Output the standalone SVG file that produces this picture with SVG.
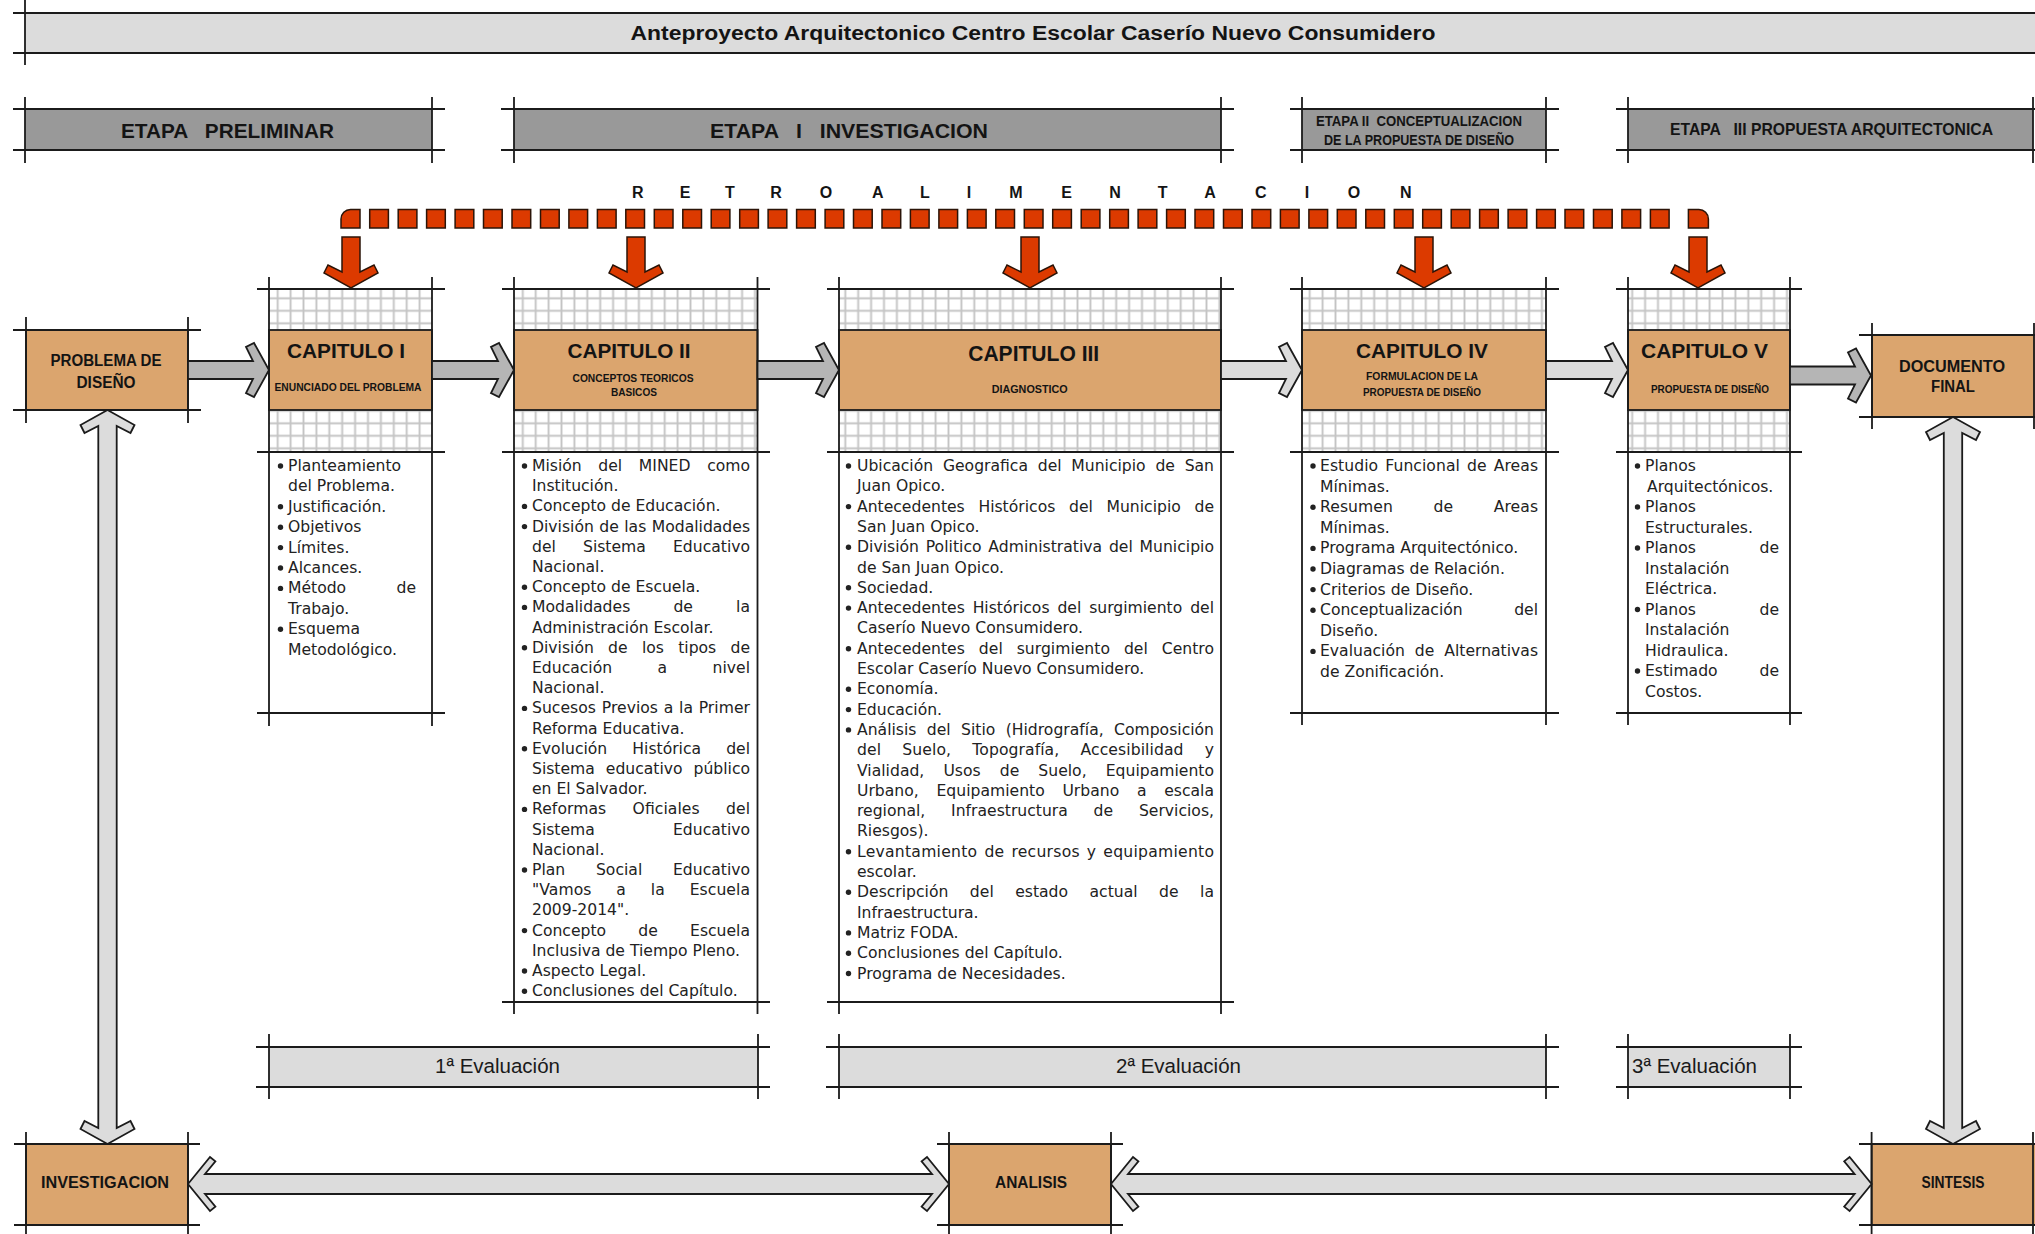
<svg xmlns="http://www.w3.org/2000/svg" width="2035" height="1234" viewBox="0 0 2035 1234">
<defs>
<style>
.ln{stroke:#1b1b1b;stroke-width:1.8;fill:none}
.or{fill:#dba56e;stroke:#1b1b1b;stroke-width:1.8}
.lg{fill:#dcdcdc}
.et{fill:#999999}
.hb{font-family:"Liberation Sans",Arial,sans-serif;font-weight:bold;fill:#141414}
.bt{font-family:"DejaVu Sans",Verdana,sans-serif;font-size:15.6px;fill:#222}
.bu{fill:#222}
.ev{font-family:"Liberation Sans",Arial,sans-serif;font-size:20.5px;fill:#1a1a1a}
.ag{fill:#b5b5b5;stroke:#1b1b1b;stroke-width:1.8;stroke-linejoin:miter}
.al{fill:#dcdcdc;stroke:#1b1b1b;stroke-width:1.8;stroke-linejoin:miter}
.ar{fill:#dc3a00;stroke:#2b1408;stroke-width:1.5;stroke-linejoin:miter}
.gr{fill:url(#grid)}
</style>
<pattern id="grid" patternUnits="userSpaceOnUse" x="271.25" y="292.05" width="12.9" height="12.5">
<path d="M6.45 0V12.5M0 6.25H12.9" stroke="#c4c4c4" stroke-width="1.9" fill="none"/>
</pattern>
</defs>
<rect width="2035" height="1234" fill="#ffffff"/>

<g id="title">
<rect class="lg" x="25" y="13" width="2015" height="40"/>
<path class="ln" d="M13 13H2035M13 53H2035M25 0V65"/>
<text class="hb" x="1033" y="39.5" font-size="19.5" text-anchor="middle" textLength="805" lengthAdjust="spacingAndGlyphs">Anteproyecto Arquitectonico Centro Escolar Caserío Nuevo Consumidero</text>
</g>

<g id="etapa-preliminar">
<rect class="et" x="25" y="109" width="407" height="41"/>
<path class="ln" d="M13 109H445M13 150H445M25 97V163M432 97V163"/>
<text class="hb" x="121" y="137.5" font-size="20" xml:space="preserve" textLength="213" lengthAdjust="spacingAndGlyphs">ETAPA   PRELIMINAR</text>
</g>
<g id="etapa-1">
<rect class="et" x="514" y="109" width="707" height="41"/>
<path class="ln" d="M501 109H1234M501 150H1234M514 97V163M1221 97V163"/>
<text class="hb" x="710" y="137.5" font-size="20" xml:space="preserve" textLength="278" lengthAdjust="spacingAndGlyphs">ETAPA   I   INVESTIGACION</text>
</g>
<g id="etapa-2">
<rect class="et" x="1302" y="109" width="244" height="41"/>
<path class="ln" d="M1290 109H1559M1290 150H1559M1302 97V163M1546 97V163"/>
<text class="hb" x="1316" y="126" font-size="15" xml:space="preserve" textLength="206" lengthAdjust="spacingAndGlyphs">ETAPA II  CONCEPTUALIZACION</text>
<text class="hb" x="1324" y="144.5" font-size="15" textLength="190" lengthAdjust="spacingAndGlyphs">DE LA PROPUESTA DE DISEÑO</text>
</g>
<g id="etapa-3">
<rect class="et" x="1628" y="109" width="405" height="41"/>
<path class="ln" d="M1616 109H2035M1616 150H2035M1628 97V163M2033 97V163"/>
<text class="hb" x="1670" y="135" font-size="16.5" xml:space="preserve" textLength="323" lengthAdjust="spacingAndGlyphs">ETAPA   III PROPUESTA ARQUITECTONICA</text>
</g>

<g id="retroalimentacion">
<text class="hb" font-size="16" text-anchor="middle" y="197.5" x="637.7 685 730 776 826 877.7 925 969 1016 1066.7 1115 1162.7 1210 1260.7 1307 1354 1405.7">RETROALIMENTACION</text>
<path class="ar" d="M341 228V219A9.5 9.5 0 0 1 350.5 209.5H360V228Z"/>
<path class="ar" d="M1688.4 228V209.5H1698.9A9.5 9.5 0 0 1 1708.4 219V228Z"/>
<path class="ar" d="M369.7 209.5h18.7v18.5h-18.7zM398.2 209.5h18.7v18.5h-18.7zM426.6 209.5h18.7v18.5h-18.7zM455.1 209.5h18.7v18.5h-18.7zM483.5 209.5h18.7v18.5h-18.7zM512 209.5h18.7v18.5h-18.7zM540.5 209.5h18.7v18.5h-18.7zM568.9 209.5h18.7v18.5h-18.7zM597.4 209.5h18.7v18.5h-18.7zM625.8 209.5h18.7v18.5h-18.7zM654.3 209.5h18.7v18.5h-18.7zM682.8 209.5h18.7v18.5h-18.7zM711.2 209.5h18.7v18.5h-18.7zM739.7 209.5h18.7v18.5h-18.7zM768.1 209.5h18.7v18.5h-18.7zM796.6 209.5h18.7v18.5h-18.7zM825.1 209.5h18.7v18.5h-18.7zM853.5 209.5h18.7v18.5h-18.7zM882 209.5h18.7v18.5h-18.7zM910.4 209.5h18.7v18.5h-18.7zM938.9 209.5h18.7v18.5h-18.7zM967.4 209.5h18.7v18.5h-18.7zM995.8 209.5h18.7v18.5h-18.7zM1024.3 209.5h18.7v18.5h-18.7zM1052.7 209.5h18.7v18.5h-18.7zM1081.2 209.5h18.7v18.5h-18.7zM1109.7 209.5h18.7v18.5h-18.7zM1138.1 209.5h18.7v18.5h-18.7zM1166.6 209.5h18.7v18.5h-18.7zM1195 209.5h18.7v18.5h-18.7zM1223.5 209.5h18.7v18.5h-18.7zM1252 209.5h18.7v18.5h-18.7zM1280.4 209.5h18.7v18.5h-18.7zM1308.9 209.5h18.7v18.5h-18.7zM1337.3 209.5h18.7v18.5h-18.7zM1365.8 209.5h18.7v18.5h-18.7zM1394.3 209.5h18.7v18.5h-18.7zM1422.7 209.5h18.7v18.5h-18.7zM1451.2 209.5h18.7v18.5h-18.7zM1479.6 209.5h18.7v18.5h-18.7zM1508.1 209.5h18.7v18.5h-18.7zM1536.6 209.5h18.7v18.5h-18.7zM1565 209.5h18.7v18.5h-18.7zM1593.5 209.5h18.7v18.5h-18.7zM1621.9 209.5h18.7v18.5h-18.7zM1650.4 209.5h18.7v18.5h-18.7z"/>
</g>

<g id="problema">
<rect class="or" x="26" y="330" width="162" height="80"/>
<path class="ln" d="M13 330H201M13 410H201M26 317V423M188 317V423"/>
<text class="hb" x="106" y="365.7" font-size="16" text-anchor="middle" textLength="111" lengthAdjust="spacingAndGlyphs">PROBLEMA DE</text>
<text class="hb" x="106" y="388.3" font-size="16" text-anchor="middle" textLength="59" lengthAdjust="spacingAndGlyphs">DISEÑO</text>
</g>

<g id="documento">
<rect class="or" x="1872" y="335" width="165" height="82"/>
<path class="ln" d="M1859 335H2035M1859 417H2035M1872 323V429M2034 323V429"/>
<text class="hb" x="1952" y="371.7" font-size="16" text-anchor="middle" textLength="106" lengthAdjust="spacingAndGlyphs">DOCUMENTO</text>
<text class="hb" x="1953" y="391.7" font-size="16" text-anchor="middle" textLength="44" lengthAdjust="spacingAndGlyphs">FINAL</text>
</g>

<g id="cap1">
<rect class="gr" x="269" y="289" width="163" height="41"/>
<rect class="gr" x="269" y="410" width="163" height="42"/>
<rect class="or" x="269" y="330" width="163" height="80"/>
<path class="ln" d="M269 277V726M432 277V726M257 289H445M257 452H445M257 713H445"/>
<text class="hb" x="346" y="358" font-size="21" text-anchor="middle" textLength="118" lengthAdjust="spacingAndGlyphs">CAPITULO I</text>
<text class="hb" x="348" y="391" font-size="10.5" text-anchor="middle" textLength="147" lengthAdjust="spacingAndGlyphs">ENUNCIADO DEL PROBLEMA</text>
<g class="bu"><circle cx="280.5" cy="466" r="2.7"/><circle cx="280.5" cy="506.8" r="2.7"/><circle cx="280.5" cy="527.2" r="2.7"/><circle cx="280.5" cy="547.6" r="2.7"/><circle cx="280.5" cy="568" r="2.7"/><circle cx="280.5" cy="588.4" r="2.7"/><circle cx="280.5" cy="629.2" r="2.7"/></g>
<g class="bt">
<text x="288" y="471">Planteamiento</text>
<text x="288" y="491.4">del Problema.</text>
<text x="288" y="511.8">Justificación.</text>
<text x="288" y="532.2">Objetivos</text>
<text x="288" y="552.6">Límites.</text>
<text x="288" y="573">Alcances.</text>
<text x="288" y="593.4">Método</text><text x="416" y="593.4" text-anchor="end">de</text>
<text x="288" y="613.8">Trabajo.</text>
<text x="288" y="634.2">Esquema</text>
<text x="288" y="654.6">Metodológico.</text>
</g>
</g>

<g id="cap2">
<rect class="gr" x="514" y="289" width="243.5" height="41"/>
<rect class="gr" x="514" y="410" width="243.5" height="42"/>
<rect class="or" x="514" y="330" width="243.5" height="80"/>
<path class="ln" d="M514 277V1014M757.5 277V1014M502 289H770M502 452H770M502 1002H770"/>
<text class="hb" x="629" y="358" font-size="21" text-anchor="middle" textLength="123" lengthAdjust="spacingAndGlyphs">CAPITULO II</text>
<text class="hb" x="633" y="381.7" font-size="10.5" text-anchor="middle" textLength="121" lengthAdjust="spacingAndGlyphs">CONCEPTOS TEORICOS</text>
<text class="hb" x="634" y="395.7" font-size="10.5" text-anchor="middle" textLength="46" lengthAdjust="spacingAndGlyphs">BASICOS</text>
<g class="bu"><circle cx="524.5" cy="466" r="2.7"/><circle cx="524.5" cy="506.4" r="2.7"/><circle cx="524.5" cy="526.6" r="2.7"/><circle cx="524.5" cy="587.2" r="2.7"/><circle cx="524.5" cy="607.4" r="2.7"/><circle cx="524.5" cy="647.8" r="2.7"/><circle cx="524.5" cy="708.4" r="2.7"/><circle cx="524.5" cy="748.8" r="2.7"/><circle cx="524.5" cy="809.4" r="2.7"/><circle cx="524.5" cy="870" r="2.7"/><circle cx="524.5" cy="930.6" r="2.7"/><circle cx="524.5" cy="971" r="2.7"/><circle cx="524.5" cy="991.2" r="2.7"/></g>
<g class="bt">
<text x="532" y="471" word-spacing="11.7" textLength="218" lengthAdjust="spacing">Misión del MINED como</text>
<text x="532" y="491.2">Institución.</text>
<text x="532" y="511.4">Concepto de Educación.</text>
<text x="532" y="531.6" word-spacing="0.5" textLength="218" lengthAdjust="spacing">División de las Modalidades</text>
<text x="532" y="551.8" word-spacing="22.2" textLength="218" lengthAdjust="spacing">del Sistema Educativo</text>
<text x="532" y="572">Nacional.</text>
<text x="532" y="592.2">Concepto de Escuela.</text>
<text x="532" y="612.4" word-spacing="38.2" textLength="218" lengthAdjust="spacing">Modalidades de la</text>
<text x="532" y="632.6">Administración Escolar.</text>
<text x="532" y="652.8" word-spacing="9.3" textLength="218" lengthAdjust="spacing">División de los tipos de</text>
<text x="532" y="673" word-spacing="40.5" textLength="218" lengthAdjust="spacing">Educación a nivel</text>
<text x="532" y="693.2">Nacional.</text>
<text x="532" y="713.4" word-spacing="0.7" textLength="218" lengthAdjust="spacing">Sucesos Previos a la Primer</text>
<text x="532" y="733.6">Reforma Educativa.</text>
<text x="532" y="753.8" word-spacing="20.1" textLength="218" lengthAdjust="spacing">Evolución Histórica del</text>
<text x="532" y="774" word-spacing="6" textLength="218" lengthAdjust="spacing">Sistema educativo público</text>
<text x="532" y="794.2">en El Salvador.</text>
<text x="532" y="814.4" word-spacing="21.4" textLength="218" lengthAdjust="spacing">Reformas Oficiales del</text>
<text x="532" y="834.6">Sistema</text><text x="750" y="834.6" text-anchor="end">Educativo</text>
<text x="532" y="854.8">Nacional.</text>
<text x="532" y="875" word-spacing="25.8" textLength="218" lengthAdjust="spacing">Plan Social Educativo</text>
<text x="532" y="895.2" word-spacing="19.8" textLength="218" lengthAdjust="spacing">"Vamos a la Escuela</text>
<text x="532" y="915.4">2009-2014".</text>
<text x="532" y="935.6" word-spacing="27.3" textLength="218" lengthAdjust="spacing">Concepto de Escuela</text>
<text x="532" y="955.8">Inclusiva de Tiempo Pleno.</text>
<text x="532" y="976">Aspecto Legal.</text>
<text x="532" y="996.2">Conclusiones del Capítulo.</text>
</g>
</g>

<g id="cap3">
<rect class="gr" x="839" y="289" width="382" height="41"/>
<rect class="gr" x="839" y="410" width="382" height="42"/>
<rect class="or" x="839" y="330" width="382" height="80"/>
<path class="ln" d="M839 277V1014M1221 277V1014M827 289H1234M827 452H1234M827 1002H1234"/>
<text class="hb" x="1033.7" y="361" font-size="22" text-anchor="middle" textLength="131" lengthAdjust="spacingAndGlyphs">CAPITULO III</text>
<text class="hb" x="1029.7" y="393.3" font-size="10.5" text-anchor="middle" textLength="76" lengthAdjust="spacingAndGlyphs">DIAGNOSTICO</text>
<g class="bu"><circle cx="848.5" cy="466" r="2.7"/><circle cx="848.5" cy="506.6" r="2.7"/><circle cx="848.5" cy="547.2" r="2.7"/><circle cx="848.5" cy="587.8" r="2.7"/><circle cx="848.5" cy="608.1" r="2.7"/><circle cx="848.5" cy="648.7" r="2.7"/><circle cx="848.5" cy="689.3" r="2.7"/><circle cx="848.5" cy="709.6" r="2.7"/><circle cx="848.5" cy="729.9" r="2.7"/><circle cx="848.5" cy="851.7" r="2.7"/><circle cx="848.5" cy="892.3" r="2.7"/><circle cx="848.5" cy="932.9" r="2.7"/><circle cx="848.5" cy="953.2" r="2.7"/><circle cx="848.5" cy="973.5" r="2.7"/></g>
<g class="bt">
<text x="857" y="471" word-spacing="4.8" textLength="357" lengthAdjust="spacing">Ubicación Geografica del Municipio de San</text>
<text x="857" y="491.3">Juan Opico.</text>
<text x="857" y="511.6" word-spacing="8.7" textLength="357" lengthAdjust="spacing">Antecedentes Históricos del Municipio de</text>
<text x="857" y="531.9">San Juan Opico.</text>
<text x="857" y="552.2" word-spacing="1.8" textLength="357" lengthAdjust="spacing">División Politico Administrativa del Municipio</text>
<text x="857" y="572.5">de San Juan Opico.</text>
<text x="857" y="592.8">Sociedad.</text>
<text x="857" y="613.1" word-spacing="2.9" textLength="357" lengthAdjust="spacing">Antecedentes Históricos del surgimiento del</text>
<text x="857" y="633.4">Caserío Nuevo Consumidero.</text>
<text x="857" y="653.7" word-spacing="9" textLength="357" lengthAdjust="spacing">Antecedentes del surgimiento del Centro</text>
<text x="857" y="674">Escolar Caserío Nuevo Consumidero.</text>
<text x="857" y="694.3">Economía.</text>
<text x="857" y="714.6">Educación.</text>
<text x="857" y="734.9" word-spacing="5.4" textLength="357" lengthAdjust="spacing">Análisis del Sitio (Hidrografía, Composición</text>
<text x="857" y="755.2" word-spacing="16.2" textLength="357" lengthAdjust="spacing">del Suelo, Topografía, Accesibilidad y</text>
<text x="857" y="775.5" word-spacing="14.1" textLength="357" lengthAdjust="spacing">Vialidad, Usos de Suelo, Equipamiento</text>
<text x="857" y="795.8" word-spacing="12.7" textLength="357" lengthAdjust="spacing">Urbano, Equipamiento Urbano a escala</text>
<text x="857" y="816.1" word-spacing="20.8" textLength="357" lengthAdjust="spacing">regional, Infraestructura de Servicios,</text>
<text x="857" y="836.4">Riesgos).</text>
<text x="857" y="856.7" word-spacing="1.8" textLength="357" lengthAdjust="spacing">Levantamiento de recursos y equipamiento</text>
<text x="857" y="877">escolar.</text>
<text x="857" y="897.3" word-spacing="16.5" textLength="357" lengthAdjust="spacing">Descripción del estado actual de la</text>
<text x="857" y="917.6">Infraestructura.</text>
<text x="857" y="937.9">Matriz FODA.</text>
<text x="857" y="958.2">Conclusiones del Capítulo.</text>
<text x="857" y="978.5">Programa de Necesidades.</text>
</g>
</g>

<g id="cap4">
<rect class="gr" x="1302" y="289" width="244" height="41"/>
<rect class="gr" x="1302" y="410" width="244" height="42"/>
<rect class="or" x="1302" y="330" width="244" height="80"/>
<path class="ln" d="M1302 277V725M1546 277V725M1290 289H1559M1290 452H1559M1290 713H1559"/>
<text class="hb" x="1422" y="358" font-size="21" text-anchor="middle" textLength="132" lengthAdjust="spacingAndGlyphs">CAPITULO IV</text>
<text class="hb" x="1422" y="380" font-size="10.5" text-anchor="middle" textLength="112" lengthAdjust="spacingAndGlyphs">FORMULACION DE LA</text>
<text class="hb" x="1422" y="396" font-size="10.5" text-anchor="middle" textLength="118" lengthAdjust="spacingAndGlyphs">PROPUESTA DE DISEÑO</text>
<g class="bu"><circle cx="1313" cy="466" r="2.7"/><circle cx="1313" cy="507.2" r="2.7"/><circle cx="1313" cy="548.4" r="2.7"/><circle cx="1313" cy="569" r="2.7"/><circle cx="1313" cy="589.6" r="2.7"/><circle cx="1313" cy="610.2" r="2.7"/><circle cx="1313" cy="651.4" r="2.7"/></g>
<g class="bt">
<text x="1320" y="471" word-spacing="2.1" textLength="218" lengthAdjust="spacing">Estudio Funcional de Areas</text>
<text x="1320" y="491.6">Mínimas.</text>
<text x="1320" y="512.2" word-spacing="35.5" textLength="218" lengthAdjust="spacing">Resumen de Areas</text>
<text x="1320" y="532.8">Mínimas.</text>
<text x="1320" y="553.4">Programa Arquitectónico.</text>
<text x="1320" y="574">Diagramas de Relación.</text>
<text x="1320" y="594.6">Criterios de Diseño.</text>
<text x="1320" y="615.2">Conceptualización</text><text x="1538" y="615.2" text-anchor="end">del</text>
<text x="1320" y="635.8">Diseño.</text>
<text x="1320" y="656.4" word-spacing="5" textLength="218" lengthAdjust="spacing">Evaluación de Alternativas</text>
<text x="1320" y="677">de Zonificación.</text>
</g>
</g>

<g id="cap5">
<rect class="gr" x="1628" y="289" width="162" height="41"/>
<rect class="gr" x="1628" y="410" width="162" height="42"/>
<rect class="or" x="1628" y="330" width="162" height="80"/>
<path class="ln" d="M1628 277V725M1790 277V725M1616 289H1802M1616 452H1802M1616 713H1802"/>
<text class="hb" x="1704.5" y="358" font-size="21" text-anchor="middle" textLength="127" lengthAdjust="spacingAndGlyphs">CAPITULO V</text>
<text class="hb" x="1710" y="392.7" font-size="10.5" text-anchor="middle" textLength="118" lengthAdjust="spacingAndGlyphs">PROPUESTA DE DISEÑO</text>
<g class="bu"><circle cx="1637.5" cy="466" r="2.7"/><circle cx="1637.5" cy="507" r="2.7"/><circle cx="1637.5" cy="548" r="2.7"/><circle cx="1637.5" cy="609.5" r="2.7"/><circle cx="1637.5" cy="671" r="2.7"/></g>
<g class="bt">
<text x="1645" y="471">Planos</text>
<text x="1647" y="491.5">Arquitectónicos.</text>
<text x="1645" y="512">Planos</text>
<text x="1645" y="532.5">Estructurales.</text>
<text x="1645" y="553">Planos</text><text x="1779" y="553" text-anchor="end">de</text>
<text x="1645" y="573.5">Instalación</text>
<text x="1645" y="594">Eléctrica.</text>
<text x="1645" y="614.5">Planos</text><text x="1779" y="614.5" text-anchor="end">de</text>
<text x="1645" y="635">Instalación</text>
<text x="1645" y="655.5">Hidraulica.</text>
<text x="1645" y="676">Estimado</text><text x="1779" y="676" text-anchor="end">de</text>
<text x="1645" y="696.5">Costos.</text>
</g>
</g>

<g id="eval1">
<rect class="lg" x="269" y="1047" width="489" height="40"/>
<path class="ln" d="M256 1047H770M256 1087H770M269 1034V1099M758 1034V1099"/>
<text class="ev" x="435" y="1073">1ª Evaluación</text>
</g>
<g id="eval2">
<rect class="lg" x="839" y="1047" width="707" height="40"/>
<path class="ln" d="M826 1047H1559M826 1087H1559M839 1034V1099M1546 1034V1099"/>
<text class="ev" x="1116" y="1073">2ª Evaluación</text>
</g>
<g id="eval3">
<rect class="lg" x="1628" y="1047" width="162" height="40"/>
<path class="ln" d="M1616 1047H1802M1616 1087H1802M1628 1034V1099M1790 1034V1099"/>
<text class="ev" x="1632" y="1073">3ª Evaluación</text>
</g>

<g id="investigacion">
<rect class="or" x="26" y="1144" width="162" height="81"/>
<path class="ln" d="M14 1144H200M14 1225H200M26 1132V1234M188 1132V1234"/>
<text class="hb" x="105" y="1188" font-size="16" text-anchor="middle" textLength="128" lengthAdjust="spacingAndGlyphs">INVESTIGACION</text>
</g>
<g id="analisis">
<rect class="or" x="949" y="1144" width="162" height="81"/>
<path class="ln" d="M937 1144H1123M937 1225H1123M949 1132V1234M1111 1132V1234"/>
<text class="hb" x="1031" y="1188" font-size="16" text-anchor="middle" textLength="72" lengthAdjust="spacingAndGlyphs">ANALISIS</text>
</g>
<g id="sintesis">
<rect class="or" x="1871.6" y="1144" width="166" height="81"/>
<path class="ln" d="M1859 1144H2035M1859 1225H2035M1871.6 1132V1234M2033 1132V1234"/>
<text class="hb" x="1953" y="1188" font-size="16" text-anchor="middle" textLength="63" lengthAdjust="spacingAndGlyphs">SINTESIS</text>
</g>

<g id="connectors">
<polygon class="ag" points="188,361 253,361 246,347 254,343 269,370 254,397 246,393 253,379 188,379"/>
<polygon class="ag" points="432,361 498,361 491,347 499,343 514,370 499,397 491,393 498,379 432,379"/>
<polygon class="ag" points="757.5,361 823,361 816,347 824,343 839,370 824,397 816,393 823,379 757.5,379"/>
<polygon class="al" points="1221,361 1286,361 1279,347 1287,343 1302,370 1287,397 1279,393 1286,379 1221,379"/>
<polygon class="al" points="1546,361 1612,361 1605,347 1613,343 1628,370 1613,397 1605,393 1612,379 1546,379"/>
<polygon class="ag" points="1790,366.5 1855,366.5 1848,352.5 1856,348.5 1871,375.5 1856,402.5 1848,398.5 1855,384.5 1790,384.5"/>
<polygon class="ar" points="342,237 360,237 360,272 374,265 378,273 351,288 324,273 328,265 342,272"/>
<polygon class="ar" points="627,237 645,237 645,272 659,265 663,273 636,288 609,273 613,265 627,272"/>
<polygon class="ar" points="1021,237 1039,237 1039,272 1053,265 1057,273 1030,288 1003,273 1007,265 1021,272"/>
<polygon class="ar" points="1415,237 1433,237 1433,272 1447,265 1451,273 1424,288 1397,273 1401,265 1415,272"/>
<polygon class="ar" points="1689,237 1707,237 1707,272 1721,265 1725,273 1698,288 1671,273 1675,265 1689,272"/>
<polygon class="al" points="107.5,410 134.5,425 130.5,433 116.7,426 116.7,1128 130.5,1121 134.5,1129 107.5,1144 80.5,1129 84.5,1121 98.3,1128 98.3,426 84.5,433 80.5,425"/>
<polygon class="al" points="1953,417 1980,432 1976,440 1962.2,433 1962.2,1128 1976,1121 1980,1129 1953,1144 1926,1129 1930,1121 1943.8,1128 1943.8,433 1930,440 1926,432"/>
<polygon class="al" points="188,1184 210,1157 215.4,1161.4 205,1174 932,1174 921.6,1161.4 927,1157 949,1184 927,1211 921.6,1206.6 932,1194 205,1194 215.4,1206.6 210,1211"/>
<polygon class="al" points="1111,1184 1133,1157 1138.4,1161.4 1128,1174 1854.6,1174 1844.2,1161.4 1849.6,1157 1871.6,1184 1849.6,1211 1844.2,1206.6 1854.6,1194 1128,1194 1138.4,1206.6 1133,1211"/>
</g>
</svg>
